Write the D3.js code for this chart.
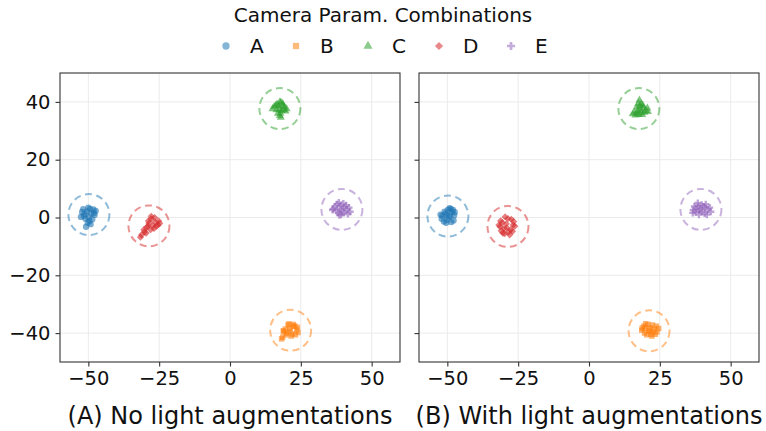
<!DOCTYPE html>
<html>
<head>
<meta charset="utf-8">
<script src="https://cdn.jsdelivr.net/npm/d3@7"></script>
<style>
  body { margin: 0; background: #fff; }
  svg { font-family: "DejaVu Sans", sans-serif; }
</style>
</head>
<body>
<div id="chart"></div>
<script>
// categories and their colours / shapes
const categories = ["A", "B", "C", "D", "E"];
const colors = ["#1f77b4", "#ff7f0e", "#2ca02c", "#d62728", "#9467bd"];
const panelTitles = ["(A) No light augmentations", "(B) With light augmentations"];
const xTicks = [-50, -25, 0, 25, 50];
const yTicks = [-40, -20, 0, 20, 40];

// cluster centres (dashed rings), per panel
const ringsNoAug = [[-49.8, 1], [21.4, -39], [17.6, 37.7], [-28.6, -2.9], [39.5, 2.8]];
const ringsAug = [[-49.8, 0.5], [21.2, -39.2], [17.6, 37.7], [-28.6, -3.1], [39.5, 2.8]];

// embedded points, panel A (no light augmentations)
const noAugA = [[-50.4,2.1],[-49.0,1.4],[-51.6,0.6],[-48.2,2.8],[-51.0,-0.4],[-49.6,-1.2],[-52.2,1.9],[-47.8,0.9],[-50.0,3.4],[-49.2,-2.3],[-50.8,-3.2],[-52.6,0.2],[-47.4,2.3],[-49.8,0.1],[-51.8,2.9],[-48.6,-0.6],[-51.2,1.2],[-48.0,1.6],[-50.2,-1.8],[-49.4,3.0]];
const noAugB = [[20.5,-37.2],[22.5,-37.6],[19.5,-38.6],[23.5,-38.9],[21.1,-39.3],[19.0,-39.5],[24.0,-39.8],[21.9,-40.3],[20.1,-40.0],[23.8,-38.0],[22.3,-37.0],[18.8,-39.2],[23.1,-40.6],[19.8,-40.6],[18.2,-42.0],[18.6,-41.4],[21.2,-38.4],[22.9,-37.6],[20.8,-36.8],[21.6,-41.0]];
const noAugC = [[17.6,40.0],[16.6,39.2],[18.6,39.4],[15.6,38.4],[17.2,38.6],[19.2,38.2],[20.0,37.6],[15.0,37.6],[16.4,37.2],[18.2,37.0],[19.6,36.8],[17.4,37.4],[17.8,36.0],[17.6,35.2],[17.9,34.6],[16.9,36.0],[18.8,38.6],[16.2,38.8],[18.0,39.8],[19.0,37.2]];
const noAugD = [[-27.8,-0.5],[-26.4,-1.6],[-28.6,-2.0],[-26.0,-3.0],[-29.4,-3.4],[-25.2,-1.2],[-28.0,-4.2],[-30.2,-5.0],[-28.8,-1.2],[-25.4,-2.6],[-31.2,-6.0],[-30.4,-4.2],[-27.2,-2.8],[-27.8,0.4],[-24.8,-2.0],[-29.0,-3.0],[-31.6,-6.8],[-26.8,-3.8],[-29.6,-5.4],[-26.6,0.0]];
const noAugE = [[37.8,4.6],[39.0,4.0],[40.4,3.6],[36.4,3.0],[39.6,2.2],[41.2,2.8],[38.2,1.6],[37.0,3.8],[40.0,4.8],[42.4,2.0],[37.6,2.4],[39.2,1.0],[41.0,4.2],[38.4,5.2],[39.0,3.0],[42.0,3.4],[38.6,0.8],[40.2,1.6],[36.2,2.6],[41.6,1.2]];

// embedded points, panel B (with light augmentations)
const augA = [[-49.2,3.2],[-48.4,2.0],[-50.6,1.4],[-51.8,0.6],[-49.4,0.2],[-47.6,0.8],[-50.0,-0.8],[-52.0,-0.4],[-48.8,3.0],[-51.2,-1.4],[-47.8,-1.0],[-49.8,2.6],[-51.0,2.0],[-48.6,-1.6],[-52.4,1.0],[-50.2,0.8],[-49.0,0.6],[-47.4,1.8],[-50.4,-1.8],[-48.0,2.6]];
const augB = [[19.4,-37.6],[20.8,-37.0],[22.4,-37.2],[23.8,-37.6],[19.8,-38.4],[21.6,-38.2],[23.0,-38.6],[24.6,-38.4],[18.6,-39.0],[21.0,-39.4],[22.6,-39.6],[19.6,-40.0],[21.8,-40.4],[24.0,-39.6],[18.8,-38.2],[23.4,-40.4],[20.4,-40.6],[22.2,-41.0],[20.0,-36.8],[21.4,-39.0]];
const augC = [[17.8,40.6],[17.4,39.4],[18.4,39.2],[16.8,38.2],[19.2,38.0],[18.2,37.4],[17.2,37.0],[20.0,37.0],[16.0,36.4],[19.0,38.8],[18.4,36.4],[20.6,37.8],[15.4,35.8],[18.0,38.6],[17.0,36.0],[19.6,36.4],[16.4,35.4],[20.8,36.6],[18.8,35.6],[17.6,35.6]];
const augD = [[-29.6,0.2],[-27.4,-0.6],[-30.6,-1.8],[-26.8,-2.6],[-31.4,-3.2],[-29.0,-3.6],[-26.2,-3.0],[-31.0,-4.6],[-28.4,-5.0],[-29.8,-5.6],[-26.6,-1.4],[-31.2,-1.2],[-29.2,-2.2],[-27.6,-4.2],[-30.4,-5.4],[-27.0,-4.8],[-31.8,-2.6],[-28.6,-0.4],[-28.0,-6.0],[-30.0,-3.8]];
const augE = [[38.4,5.0],[39.8,4.4],[37.2,3.8],[41.0,3.4],[39.2,3.0],[36.8,2.6],[42.0,2.8],[39.8,2.0],[37.6,1.8],[40.8,1.4],[42.6,3.4],[38.8,1.0],[41.2,4.6],[36.6,1.6],[38.4,4.0],[43.0,2.0],[39.0,2.4],[40.4,3.8],[37.8,3.0],[41.6,1.0]];

const panels = [
  { title: panelTitles[0], rings: ringsNoAug, points: [noAugA, noAugB, noAugC, noAugD, noAugE], left: 60, showY: true },
  { title: panelTitles[1], rings: ringsAug, points: [augA, augB, augC, augD, augE], left: 419, showY: false }
];

const W = 766, H = 431;
const PW = 340, PH = 289, TOP = 73;
const RING_R = 20.5;

// matplotlib-like markers: o, s, ^, D (rotated square), P
const symbols = [d3.symbolCircle, d3.symbolSquare, d3.symbolTriangle, d3.symbolSquare, d3.symbolCross];
const symRotate = [0, 0, 0, 45, 0];
const symSizes = [32, 30, 28, 26, 28];

const svg = d3.select("#chart").append("svg")
  .attr("width", W)
  .attr("height", H);

// legend title + entries
svg.append("text")
  .attr("x", 383)
  .attr("y", 22)
  .attr("text-anchor", "middle")
  .attr("font-size", "20px")
  .attr("fill", "#111")
  .text("Camera Param. Combinations");

const legX = [226, 296, 368, 439, 511];
categories.forEach((c, i) => {
  svg.append("path")
    .attr("d", d3.symbol().type(symbols[i]).size(symSizes[i] * 1.3)())
    .attr("transform", `translate(${legX[i]},46) rotate(${symRotate[i]})`)
    .attr("fill", colors[i])
    .attr("opacity", 0.55);
  svg.append("text")
    .attr("x", legX[i] + 24)
    .attr("y", 52.5)
    .attr("font-size", "20px")
    .attr("fill", "#111")
    .text(c);
});

panels.forEach(p => {
  const g = svg.append("g").attr("transform", `translate(${p.left}, ${TOP})`);

  const x = d3.scaleLinear().domain([-60, 60]).range([0, PW]);
  const y = d3.scaleLinear().domain([-50, 50]).range([PH, 0]);

  // grid
  g.append("g").selectAll("line").data(xTicks).enter().append("line")
    .attr("x1", d => x(d)).attr("x2", d => x(d))
    .attr("y1", 0).attr("y2", PH)
    .attr("stroke", "#ebebeb").attr("stroke-width", 1);
  g.append("g").selectAll("line").data(yTicks).enter().append("line")
    .attr("y1", d => y(d)).attr("y2", d => y(d))
    .attr("x1", 0).attr("x2", PW)
    .attr("stroke", "#ebebeb").attr("stroke-width", 1);

  // points
  p.points.forEach((pts, i) => {
    g.append("g").selectAll("path").data(pts).enter().append("path")
      .attr("d", d3.symbol().type(symbols[i]).size(symSizes[i]))
      .attr("transform", d => `translate(${x(d[0])},${y(d[1])}) rotate(${symRotate[i]})`)
      .attr("fill", colors[i])
      .attr("opacity", 0.6);
  });

  // dashed rings round each cluster
  g.append("g").selectAll("circle").data(p.rings).enter().append("circle")
    .attr("cx", d => x(d[0]))
    .attr("cy", d => y(d[1]))
    .attr("r", RING_R)
    .attr("fill", "none")
    .attr("stroke", (d, i) => colors[i])
    .attr("stroke-opacity", 0.5)
    .attr("stroke-width", 2)
    .attr("stroke-dasharray", "7,4.5");

  // axes
  const xAxis = g.append("g")
    .attr("transform", `translate(0, ${PH})`)
    .call(d3.axisBottom(x).tickValues(xTicks).tickSize(4.5).tickPadding(5).tickFormat(d3.format("")));
  const yAxis = g.append("g")
    .call(d3.axisLeft(y).tickValues(yTicks).tickSize(4.5).tickPadding(5)
      .tickFormat(p.showY ? d3.format("") : () => ""));
  [xAxis, yAxis].forEach(a => {
    a.select(".domain").remove();
    a.selectAll("line").attr("stroke", "#333").attr("stroke-width", 1.1);
    a.selectAll("text").attr("font-size", "19.5px").attr("fill", "#111")
      .attr("font-family", "DejaVu Sans, sans-serif");
  });

  // frame
  g.append("rect")
    .attr("width", PW).attr("height", PH)
    .attr("fill", "none")
    .attr("stroke", "#333")
    .attr("stroke-width", 1.1);

  // panel caption
  g.append("text")
    .attr("x", PW / 2)
    .attr("y", 351)
    .attr("text-anchor", "middle")
    .attr("font-size", "24px")
    .attr("fill", "#111")
    .text(p.title);
});
</script>
</body>
</html>
